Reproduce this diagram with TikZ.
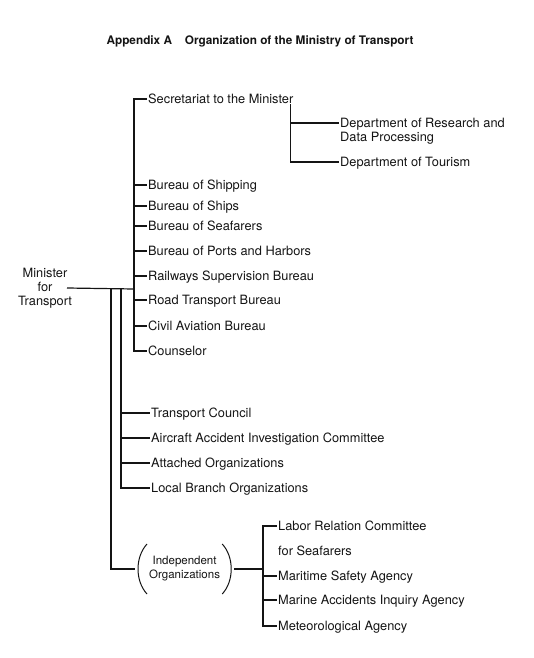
\documentclass[tikz,border=0pt]{standalone}
\usepackage{fontspec}
\setmainfont{TeX Gyre Heros}
\usepackage{tikz}
\usetikzlibrary{positioning, calc}
\definecolor{InkBlack}{RGB}{20, 20, 20}

\begin{document}
\begin{tikzpicture}[
    x=1pt, y=-1pt,
    color=InkBlack,
    orgline/.style={line width=1.2pt},
    unit/.style={anchor=west, inner xsep=1pt, inner ysep=0pt,
      text height=9.5pt, text depth=0.5pt,
      font=\fontsize{12.8}{14}\selectfont},
    twoline/.style={anchor=north west, inner xsep=1pt, inner ysep=0pt,
      align=left, font=\fontsize{12.8}{14}\selectfont}
  ]
  \useasboundingbox (0,0) rectangle (534,658);

  % title
  \node[font=\bfseries\fontsize{11.8}{14}\selectfont] (title) at (260,41)
    {Appendix A\hspace{0.8em} Organization of the Ministry of Transport};

  % minister
  \node[align=center, inner sep=0pt, font=\fontsize{12.8}{14}\selectfont]
    (minister) at (45,288) {Minister\\for\\Transport};
  \coordinate (jA) at (134,289);
  \coordinate (jB) at (121,289);
  \coordinate (jC) at (111,289);

  % bureaus
  \node[unit] (secretariat) at (147,99) {Secretariat to the Minister};
  \node[unit] (shipping) at (147,185) {Bureau of Shipping};
  \node[unit] (ships) at (147,206) {Bureau of Ships};
  \node[unit] (seafarers) at (147,226) {Bureau of Seafarers};
  \node[unit] (ports) at (147,251) {Bureau of Ports and Harbors};
  \node[unit] (railways) at (147,276) {Railways Supervision Bureau};
  \node[unit] (road) at (147,300) {Road Transport Bureau};
  \node[unit] (civil) at (147,326) {Civil Aviation Bureau};
  \node[unit] (counselor) at (147,351) {Counselor};

  % departments under the secretariat
  \node[twoline] (research) at (339,118) {Department of Research and\\Data Processing};
  \node[unit] (tourism) at (339,162) {Department of Tourism};
  \coordinate (jS) at ([xshift=-4pt]secretariat.south east);

  % councils and organizations
  \node[unit] (council) at (150,413) {Transport Council};
  \node[unit] (aircraft) at (150,438) {Aircraft Accident Investigation Committee};
  \node[unit] (attached) at (150,463) {Attached Organizations};
  \node[unit] (branch) at (150,488) {Local Branch Organizations};

  % independent organizations
  \node[anchor=west, align=center, inner xsep=14pt, inner ysep=0pt,
    font=\fontsize{11.5}{14}\selectfont] (indep) at (135,569)
    {Independent\\Organizations};
  \coordinate (jD) at (263,569);
  \node[twoline] (labor) at (277,521) {Labor Relation Committee\\[11pt]for Seafarers};
  \node[unit] (maritime) at (277,576) {Maritime Safety Agency};
  \node[unit] (marine) at (277,600) {Marine Accidents Inquiry Agency};
  \node[unit] (meteo) at (277,626) {Meteorological Agency};

  % connectors
  \draw[orgline] ($(minister.center)+(22,0)$) -- (jA);
  \foreach \n in {secretariat, shipping, ships, seafarers, ports,
                  railways, road, civil, counselor}
    \draw[orgline] (jA) |- (\n.west);
  \draw[orgline] (jS) |- ([yshift=-5pt]research.north west);
  \draw[orgline] (jS) |- (tourism.west);
  \foreach \n in {council, aircraft, attached, branch}
    \draw[orgline] (jB) |- (\n.west);
  \draw[orgline] (jC) |- (indep.west);
  \draw[orgline] (indep.east) -- (jD);
  \draw[orgline] (jD) |- ([yshift=-5pt]labor.north west);
  \foreach \n in {maritime, marine, meteo}
    \draw[orgline] (jD) |- (\n.west);

  % brackets round the independent organizations
  \draw[line width=1pt] ($(indep.west)+(12,-25)$) .. controls ($(indep.west)+(0,-12)$)
    and ($(indep.west)+(0,12)$) .. ($(indep.west)+(12,25)$);
  \draw[line width=1pt] ($(indep.east)+(-12,-25)$) .. controls ($(indep.east)+(0,-12)$)
    and ($(indep.east)+(0,12)$) .. ($(indep.east)+(-12,25)$);
\end{tikzpicture}
\end{document}
